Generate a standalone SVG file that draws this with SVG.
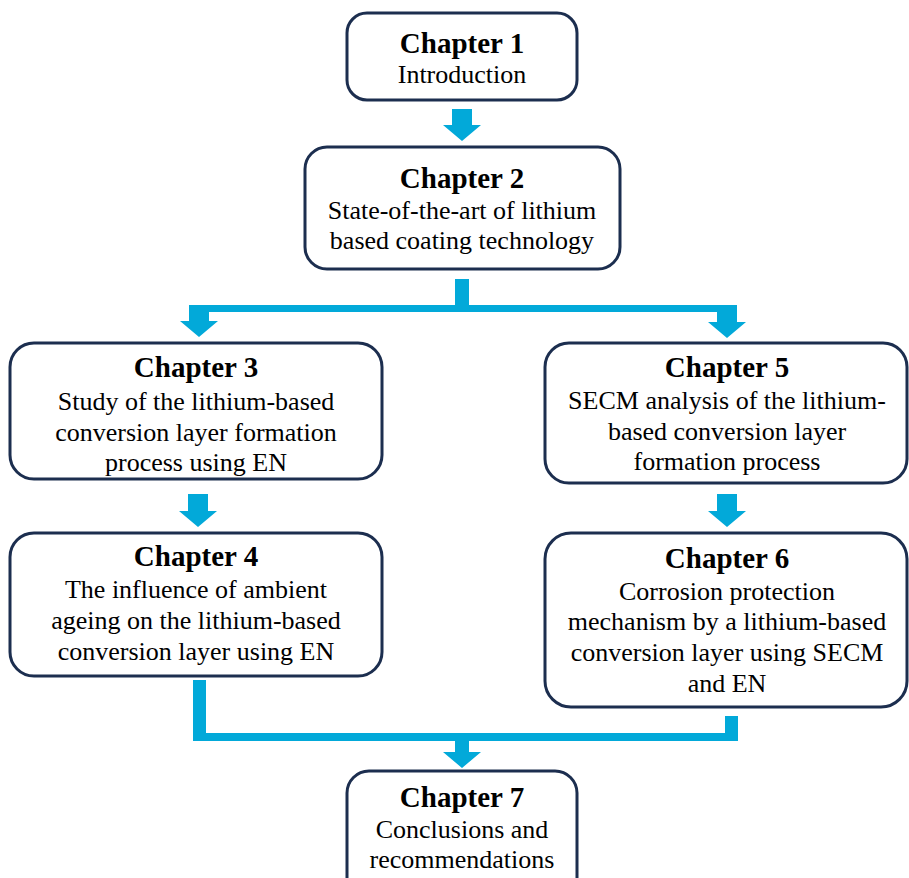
<svg xmlns="http://www.w3.org/2000/svg" width="909" height="878" viewBox="0 0 909 878">
<style>
.box{fill:#fff;stroke:#1c2e4f;stroke-width:3}
.t{font-family:"Liberation Serif","Times New Roman",serif;font-size:29px;font-weight:bold;fill:#000;text-anchor:middle}
.b{font-family:"Liberation Serif","Times New Roman",serif;font-size:26px;fill:#000;text-anchor:middle}
.c{fill:#02a9d9;stroke:none}
</style>
<rect width="909" height="878" fill="#fff"/>
<g id="connectors">
<path class="c" d="M452,109 H472 V125 H481 L462,141 L443,125 H452 Z"/>
<path class="c" d="M455,279 H469 V305 H737 V322 H746 L727,338 L708,322 H717 V312 H209 V321 H218 L199,337 L180,321 H189 V305 H455 Z"/>
<path class="c" d="M188,494 H208 V511 H217 L198,527 L179,511 H188 Z"/>
<path class="c" d="M717,494 H737 V511 H746 L727,527 L708,511 H717 Z"/>
<path class="c" d="M193,680 H206 V733 H725 V716 H738 V741 H469 V752 H481 L462,768 L443,752 H455 V741 H193 Z"/>
</g>
<g id="ch1">
<rect class="box" x="347" y="13" width="230" height="87" rx="20"/>
<text class="t" x="462" y="53">Chapter 1</text>
<text class="b" x="462" y="83">Introduction</text>
</g>
<g id="ch2">
<rect class="box" x="305" y="147" width="315" height="122" rx="22"/>
<text class="t" x="462" y="188">Chapter 2</text>
<text class="b" x="462" y="219">State-of-the-art of lithium</text>
<text class="b" x="462" y="249">based coating technology</text>
</g>
<g id="ch3">
<rect class="box" x="10" y="343" width="372" height="136" rx="24"/>
<text class="t" x="196" y="377">Chapter 3</text>
<text class="b" x="196" y="410">Study of the lithium-based</text>
<text class="b" x="196" y="441">conversion layer formation</text>
<text class="b" x="196" y="471">process using EN</text>
</g>
<g id="ch5">
<rect class="box" x="545" y="343" width="362" height="140" rx="24"/>
<text class="t" x="727" y="377">Chapter 5</text>
<text class="b" x="727" y="409">SECM analysis of the lithium-</text>
<text class="b" x="727" y="440">based conversion layer</text>
<text class="b" x="727" y="470">formation process</text>
</g>
<g id="ch4">
<rect class="box" x="10" y="533" width="372" height="143" rx="24"/>
<text class="t" x="196" y="566">Chapter 4</text>
<text class="b" x="196" y="598">The influence of ambient</text>
<text class="b" x="196" y="629">ageing on the lithium-based</text>
<text class="b" x="196" y="660">conversion layer using EN</text>
</g>
<g id="ch6">
<rect class="box" x="545" y="533" width="362" height="174" rx="26"/>
<text class="t" x="727" y="568">Chapter 6</text>
<text class="b" x="727" y="600">Corrosion protection</text>
<text class="b" x="727" y="630">mechanism by a lithium-based</text>
<text class="b" x="727" y="661">conversion layer using SECM</text>
<text class="b" x="727" y="692">and EN</text>
</g>
<g id="ch7">
<rect class="box" x="347" y="771" width="230" height="130" rx="22"/>
<text class="t" x="462" y="807">Chapter 7</text>
<text class="b" x="462" y="838">Conclusions and</text>
<text class="b" x="462" y="868">recommendations</text>
</g>
</svg>
